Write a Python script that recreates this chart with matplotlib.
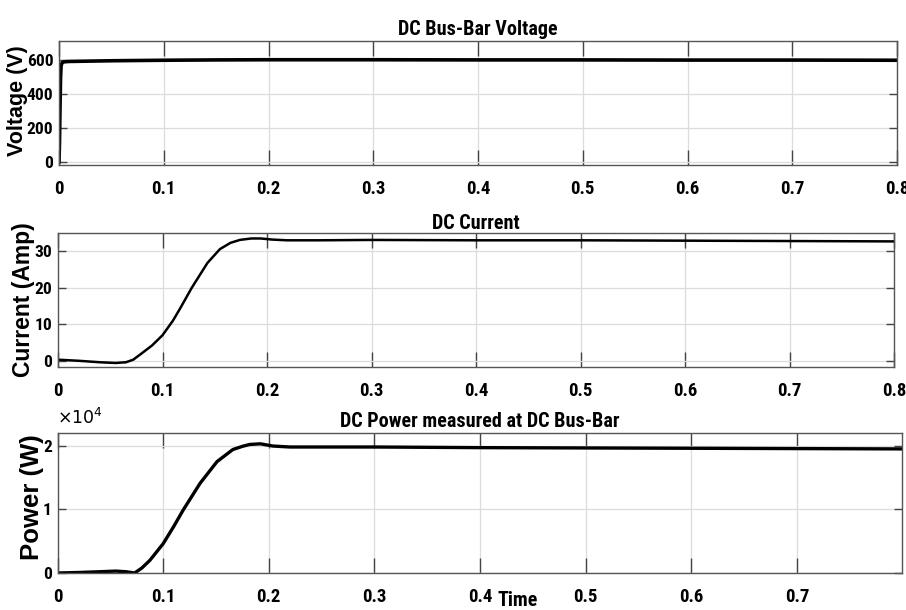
import matplotlib
matplotlib.use("Agg")
import matplotlib.pyplot as plt
from matplotlib.font_manager import FontProperties
import numpy as np

# ---- data ----
t_volt = [0.0, 0.0005, 0.001, 0.0015, 0.002, 0.003, 0.005, 0.01, 0.03, 0.05, 0.1, 0.15, 0.2, 0.3, 0.4, 0.5, 0.6, 0.7, 0.8]
voltage = [0, 120, 330, 500, 565, 583, 588, 590, 592, 594, 597, 599, 600, 600, 599, 599, 598, 598, 597]

t_curr = [0.0, 0.02, 0.04, 0.055, 0.065, 0.072, 0.079, 0.09, 0.1, 0.11, 0.117, 0.128, 0.143, 0.155, 0.165, 0.174, 0.185, 0.194, 0.205, 0.219, 0.25, 0.3, 0.4, 0.5, 0.6, 0.7, 0.8]
current = [0.3, 0.0, -0.4, -0.6, -0.4, 0.3, 1.8, 4.2, 7.0, 11.0, 14.4, 20.0, 26.8, 30.6, 32.3, 33.1, 33.5, 33.5, 33.2, 33.0, 33.0, 33.1, 33.0, 33.0, 32.9, 32.8, 32.7]

t_pow = [0.0, 0.02, 0.04, 0.055, 0.065, 0.073, 0.08, 0.0875, 0.1, 0.11, 0.119, 0.135, 0.151, 0.166, 0.175, 0.182, 0.192, 0.204, 0.22, 0.25, 0.3, 0.4, 0.5, 0.6, 0.7, 0.8]
power = [0, 80, 200, 300, 200, 0, 800, 2000, 4600, 7300, 9900, 14100, 17500, 19400, 19900, 20200, 20300, 19950, 19800, 19800, 19800, 19700, 19650, 19600, 19550, 19500]

titles = ["DC Bus-Bar Voltage", "DC Current", "DC Power measured at DC Bus-Bar"]
ylabels = ["Voltage (V)", "Current (Amp)", "Power (W)"]
xticks12 = [0, 0.1, 0.2, 0.3, 0.4, 0.5, 0.6, 0.7, 0.8]
xticks3 = [0, 0.1, 0.2, 0.3, 0.4, 0.5, 0.6, 0.7]
volt_ticks = [0, 200, 400, 600]
curr_ticks = [0, 10, 20, 30]
pow_ticks = [0, 1, 2]

NARROW = ["Roboto Condensed", "Liberation Sans Narrow", "DejaVu Sans"]
xtick_fp = FontProperties(family=NARROW, weight="bold", size=13.5)
ytick_fp = FontProperties(family=NARROW, weight="bold", size=12.5)
title_fp = FontProperties(family=NARROW, weight="bold", size=14.5)

fig = plt.figure(figsize=(9.06, 6.10), dpi=100)

W, H = 906.0, 610.0
def box(l, r, t, b):
    return [l / W, 1 - b / H, (r - l) / W, (b - t) / H]

ax1 = fig.add_axes(box(59, 897, 41, 165))
ax2 = fig.add_axes(box(58, 894, 233, 367))
ax3 = fig.add_axes(box(57.5, 902, 433, 573))

def style(ax):
    for s in ax.spines.values():
        s.set_color("#555555")
        s.set_linewidth(1.0)
    ax.grid(True, color="#dcdcdc", linewidth=0.9)
    ax.set_axisbelow(True)
    ax.tick_params(direction="in", top=True, right=True, length=6, width=1.0,
                   color="#444444")
    ax.tick_params(axis="x", length=11, pad=11)
    ax.tick_params(axis="y", pad=4)
    for lab in ax.get_xticklabels():
        lab.set_fontproperties(xtick_fp)
    for lab in ax.get_yticklabels():
        lab.set_fontproperties(ytick_fp)

# Panel 1
ax1.plot(t_volt, voltage, color="black", linewidth=2.6)
ax1.set_xlim(0, 0.8)
ax1.set_ylim(-18, 710)
ax1.set_xticks(xticks12)
ax1.set_xticklabels([f"{v:g}" for v in xticks12])
ax1.set_yticks(volt_ticks)
ax1.set_yticklabels([str(v) for v in volt_ticks])
style(ax1)
ax1.set_title(titles[0], pad=4, fontproperties=title_fp)

# Panel 2
ax2.plot(t_curr, current, color="black", linewidth=1.8)
ax2.set_xlim(0, 0.8)
ax2.set_ylim(-1.7, 35)
ax2.set_xticks(xticks12)
ax2.set_xticklabels([f"{v:g}" for v in xticks12])
ax2.set_yticks(curr_ticks)
ax2.set_yticklabels([str(v) for v in curr_ticks])
style(ax2)
ax2.set_title(titles[1], pad=3, fontproperties=title_fp)

# Panel 3
ax3.plot(t_pow, np.array(power) / 1e4, color="black", linewidth=2.4)
ax3.set_xlim(0, 0.7995)
ax3.set_ylim(0, 2.2)
ax3.set_xticks(xticks3)
ax3.set_xticklabels([f"{v:g}" for v in xticks3])
ax3.set_yticks(pow_ticks)
ax3.set_yticklabels([str(v) for v in pow_ticks])
style(ax3)
ax3.set_title(titles[2], pad=4, fontproperties=title_fp)
fig.text(57 / W, 1 - 418 / H, r"$\times10^4$", fontsize=12.5,
         ha="left", va="center", family="DejaVu Sans")

# y labels placed like the reference
fig.text(18 / W, 1 - 101 / H, ylabels[0], rotation=90, ha="center", va="center",
         fontproperties=FontProperties(family="Liberation Sans", weight="bold", size=15.5))
fig.text(24 / W, 1 - 300 / H, ylabels[1], rotation=90, ha="center", va="center",
         fontproperties=FontProperties(family="Liberation Sans", weight="bold", size=16.5))
fig.text(32 / W, 1 - 497 / H, ylabels[2], rotation=90, ha="center", va="center",
         fontproperties=FontProperties(family="Liberation Sans", weight="bold", size=18.5))

fig.text(518 / W, 1 - 601 / H, "Time", ha="center", va="center",
         fontproperties=FontProperties(family=NARROW, weight="bold", size=14.5))

fig.savefig("out.png", dpi=100)
